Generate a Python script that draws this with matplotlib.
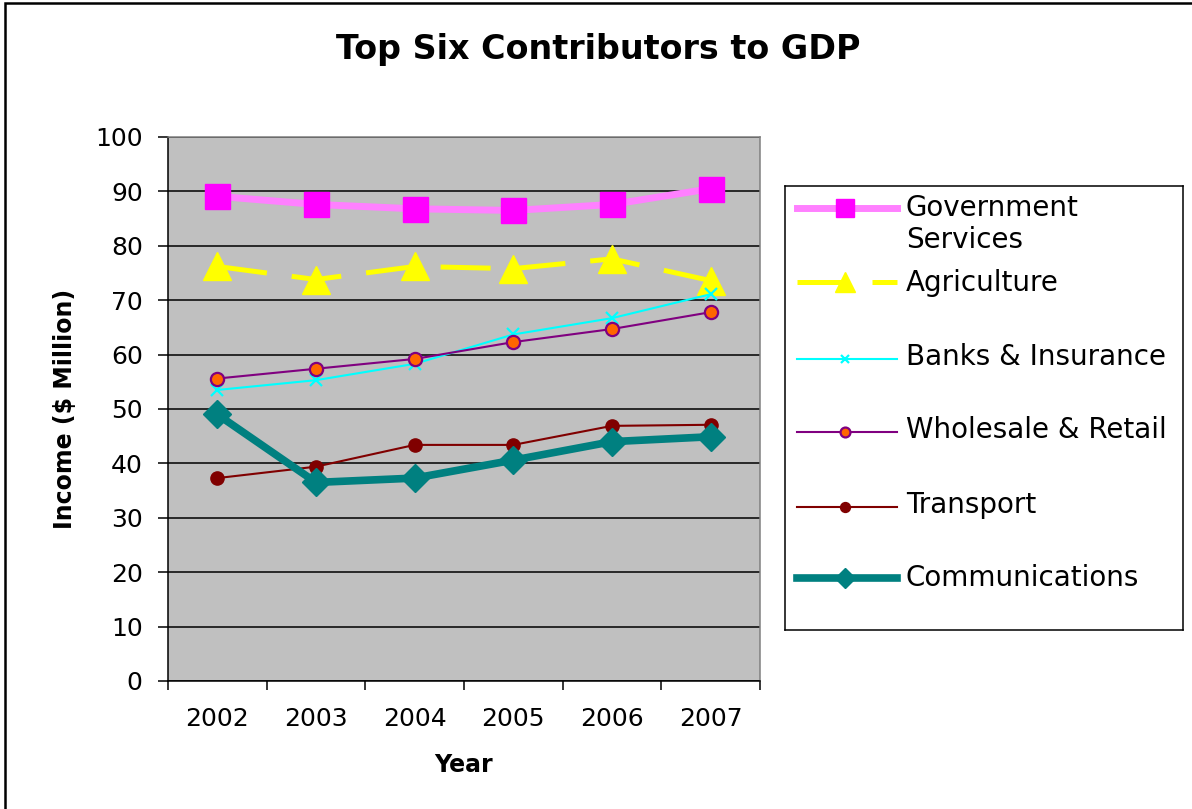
import numpy as np
import matplotlib.pyplot as plt
from matplotlib.patches import Rectangle

plt.rcParams["font.family"] = "DejaVu Sans"

# income by sector, $ million
years = ["2002", "2003", "2004", "2005", "2006", "2007"]
government = [89.1, 87.6, 86.8, 86.5, 87.6, 90.5]
agriculture = [76.2, 73.8, 76.2, 75.8, 77.6, 73.6]
banks = [53.5, 55.3, 58.3, 63.7, 66.7, 71.1]
wholesale = [55.6, 57.4, 59.2, 62.3, 64.7, 67.8]
transport = [37.3, 39.4, 43.4, 43.4, 46.9, 47.1]
communications = [49.0, 36.5, 37.3, 40.6, 44.0, 44.9]

labels = ["Government\nServices", "Agriculture", "Banks & Insurance",
          "Wholesale & Retail", "Transport", "Communications"]

styles = [
    dict(color="#FF80FF", lw=5, marker="s", ms=18, mfc="#FF00FF", mec="#FF00FF"),
    dict(color="#FFFF00", lw=3.6, ls=(0, (10, 5)), marker="^", ms=20,
         mfc="#FFFF00", mec="#FFFF00"),
    dict(color="#00FFFF", lw=1.5, marker="x", ms=8.5, mew=1.6),
    dict(color="#800080", lw=1.5, marker="o", ms=9.5, mfc="#FF6600",
         mec="#800080", mew=1.6),
    dict(color="#800000", lw=1.5, marker="o", ms=9.5, mfc="#800000", mec="#800000"),
    dict(color="#008080", lw=5.5, marker="D", ms=14, mfc="#008080", mec="#008080"),
]

W, H = 1192, 809
fig = plt.figure(figsize=(W / 100, H / 100), dpi=100)
fig.patch.set_facecolor("white")

# chart border (right and bottom edges fall outside the image)
fig.add_artist(Rectangle((5 / W, -0.05), 1.2, 1 - 3 / H + 0.05,
                         transform=fig.transFigure, fill=False,
                         ec="black", lw=1.8))

ax = fig.add_axes([168 / W, 128 / H, 592 / W, 544 / H])
ax.set_facecolor("#C0C0C0")

x = np.arange(len(years))
series = [government, agriculture, banks, wholesale, transport, communications]
for values, style in zip(series, styles):
    ax.plot(x, values, clip_on=False, **style)

ax.set_xlim(-0.5, len(years) - 0.5)
ax.set_ylim(0, 100)
ax.set_yticks(range(0, 101, 10))
ax.set_xticks(np.arange(-0.5, len(years), 1))
ax.set_xticklabels([])
ax.set_xticks(x, minor=True)
ax.set_xticklabels(years, minor=True)

ax.tick_params(axis="x", which="major", length=6.5, width=1.1, direction="out")
ax.tick_params(axis="x", which="minor", length=0, pad=19, labelsize=18)
ax.tick_params(axis="y", length=7.2, width=1.1, pad=11, labelsize=18)

ax.yaxis.grid(True, color="black", lw=1.1)
ax.set_axisbelow(True)
for side in ["left", "bottom"]:
    ax.spines[side].set_color("black")
    ax.spines[side].set_linewidth(1.1)
for side in ["top", "right"]:
    ax.spines[side].set_color("#808080")
    ax.spines[side].set_linewidth(1.1)

ax.set_ylabel("Income ($ Million)", fontsize=17, fontweight="bold", va="center")
ax.yaxis.set_label_coords(-0.174, 0.5)
ax.set_xlabel("Year", fontsize=17, fontweight="bold", va="center")
ax.xaxis.set_label_coords(0.5, -0.154)

fig.text(598 / W, 1 - 49 / H, "Top Six Contributors to GDP",
         fontsize=24, fontweight="bold", ha="center", va="center")

# legend box drawn in its own pixel-unit axes
lax = fig.add_axes([785 / W, (H - 630) / H, 398 / W, 444 / H])
lax.set_xlim(0, 398)
lax.set_ylim(444, 0)
lax.set_xticks([])
lax.set_yticks([])
for sp in lax.spines.values():
    sp.set_color("black")
    sp.set_linewidth(1.1)

handle_y = [22, 96, 173, 246, 321, 392]
text_y = [38, 97, 171, 244, 319, 392]
for label, style, hy, ty in zip(labels, styles, handle_y, text_y):
    line_style = {k: v for k, v in style.items() if k in ("color", "lw", "ls")}
    lax.plot([12, 112], [hy, hy], **line_style)
    mark_style = {k: v for k, v in style.items()
                  if k in ("marker", "mfc", "mec", "mew", "color")}
    lax.plot([60], [hy], ls="none", ms=style["ms"] * 0.75, **mark_style)
    lax.text(121, ty, label, fontsize=20, ha="left", va="center",
             linespacing=1.15)

fig.savefig("out.png", dpi=100)
